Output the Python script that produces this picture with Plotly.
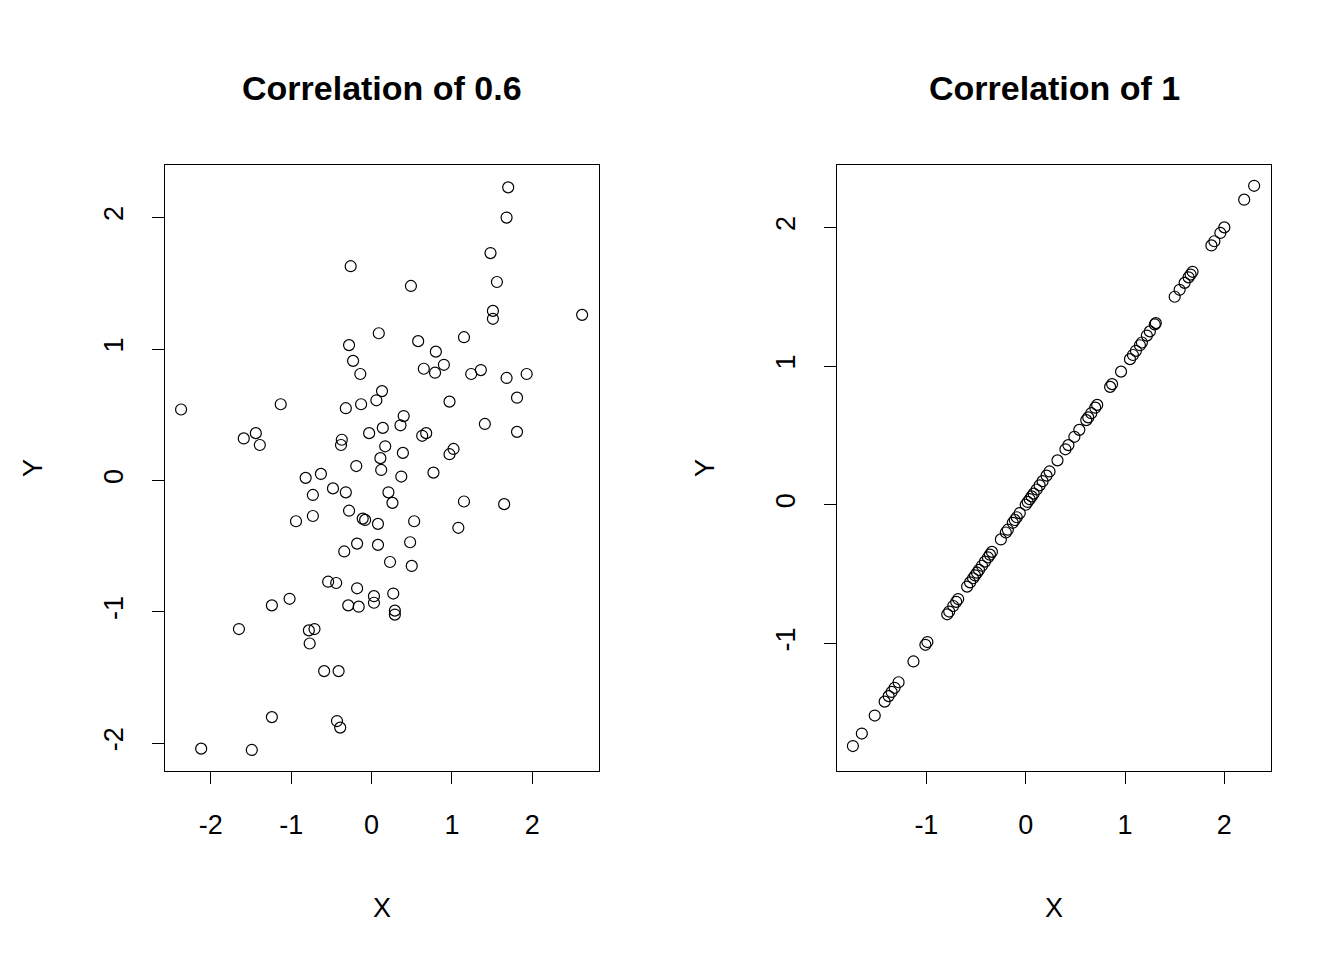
import plotly.graph_objects as go

x06 = [-2.37,-2.12,-1.49,-1.24,-1.65,-0.78,-0.71,-0.77,-0.59,-0.41,-0.43,-0.39,-1.59,-1.44,-1.39,-1.13,
       -1.24,-1.02,-0.94,-0.82,-0.73,-0.73,-0.63,-0.54,-0.44,-0.48,-0.37,-0.38,-0.34,-0.32,-0.28,-0.26,
       -0.28,-0.23,-0.14,-0.13,-0.32,-0.18,-0.19,-0.18,-0.16,-0.11,-0.08,-0.29,0.03,0.03,0.06,0.08,0.08,
       0.09,0.11,0.12,0.13,0.14,0.17,0.23,0.21,0.26,0.27,0.29,0.29,0.37,0.39,0.36,0.40,0.49,0.48,0.50,
       0.53,0.58,0.63,0.68,0.65,0.77,0.80,0.79,0.90,0.97,0.97,1.02,1.08,1.15,1.15,1.24,1.36,1.41,1.48,
       1.51,1.51,1.56,1.65,1.68,1.70,1.68,1.81,1.81,1.93,2.62,-0.03]
y06 = [0.54,-2.04,-2.05,-1.80,-1.13,-1.14,-1.13,-1.24,-1.45,-1.45,-1.83,-1.88,0.32,0.36,0.27,0.58,
       -0.95,-0.90,-0.31,0.02,-0.11,-0.27,0.05,-0.77,-0.78,-0.06,0.31,0.27,-0.54,-0.09,-0.23,1.63,
       1.03,0.91,0.81,0.58,0.55,-0.48,0.11,-0.82,-0.96,-0.29,-0.30,-0.95,-0.88,-0.93,0.61,-0.33,-0.49,
       1.12,0.17,0.08,0.68,0.40,0.26,-0.62,-0.09,-0.17,-0.86,-0.99,-1.02,0.03,0.21,0.42,0.49,1.48,-0.47,-0.65,
       -0.31,1.06,0.34,0.36,0.85,0.06,0.98,0.82,0.88,0.60,0.20,0.24,-0.36,1.09,-0.16,0.81,0.84,0.43,1.73,
       1.23,1.29,1.51,-0.18,0.78,2.23,2.00,0.63,0.37,0.81,1.26,0.36]
x1 = [-1.74,-1.65,-1.52,-1.42,-1.38,-1.35,-1.32,-1.28,-1.13,-1.01,-0.99,-0.79,-0.77,-0.73,-0.70,-0.68,
      -0.59,-0.56,-0.53,-0.51,-0.49,-0.47,-0.44,-0.41,-0.38,-0.36,-0.34,-0.25,-0.20,-0.18,-0.13,-0.11,
      -0.09,-0.06,0.0,0.02,0.04,0.06,0.08,0.11,0.14,0.17,0.21,0.24,0.32,0.40,0.43,0.49,0.54,0.61,0.63,
      0.66,0.70,0.72,0.85,0.87,0.96,1.05,1.08,1.11,1.15,1.17,1.22,1.25,1.30,1.31,1.50,1.55,1.60,1.64,
      1.66,1.68,1.87,1.90,1.96,2.00,2.20,2.30]
y1 = [-1.74,-1.65,-1.52,-1.42,-1.38,-1.35,-1.32,-1.28,-1.13,-1.01,-0.99,-0.79,-0.77,-0.73,-0.70,-0.68,
      -0.59,-0.56,-0.53,-0.51,-0.49,-0.47,-0.44,-0.41,-0.38,-0.36,-0.34,-0.25,-0.20,-0.18,-0.13,-0.11,
      -0.09,-0.06,0.0,0.02,0.04,0.06,0.08,0.11,0.14,0.17,0.21,0.24,0.32,0.40,0.43,0.49,0.54,0.61,0.63,
      0.66,0.70,0.72,0.85,0.87,0.96,1.05,1.08,1.11,1.15,1.17,1.22,1.25,1.30,1.31,1.50,1.55,1.60,1.64,
      1.66,1.68,1.87,1.90,1.96,2.00,2.20,2.30]
titles = ["Correlation of 0.6", "Correlation of 1"]
ticks_a = [-2, -1, 0, 1, 2]
ticks_b = [-1, 0, 1, 2]

W, H = 1344, 960
font = "Liberation Sans, Arial, sans-serif"
fig = go.Figure()
mk = dict(symbol="circle-open", size=11, color="black", line=dict(width=1.2))
fig.add_trace(go.Scatter(x=x06, y=y06, mode="markers", marker=mk, xaxis="x", yaxis="y"))
fig.add_trace(go.Scatter(x=x1, y=y1, mode="markers", marker=mk, xaxis="x2", yaxis="y2"))

ax = dict(showgrid=False, zeroline=False, showline=True, mirror=True, linecolor="black", linewidth=1,
          ticks="outside", ticklen=12, tickcolor="black", tickfont=dict(family=font, size=27, color="black"),
          ticklabelstandoff=18, automargin=False)
def tk(v):
    return dict(tickvals=v, ticktext=[str(t) for t in v])
yd = [1 - 763 / H, 1 - 157 / H]
fig.update_layout(
    width=W, height=H, margin=dict(l=0, r=0, t=0, b=0, autoexpand=False), showlegend=False,
    plot_bgcolor="white", paper_bgcolor="white",
    xaxis=dict(ax, domain=[157 / W, 591 / W], range=[-2.57, 2.83], **tk(ticks_a)),
    yaxis=dict(ax, domain=yd, range=[-2.21, 2.40], tickangle=-90, **tk(ticks_a)),
    xaxis2=dict(ax, domain=[829 / W, 1263 / W], range=[-1.90, 2.47], anchor="y2", **tk(ticks_b)),
    yaxis2=dict(ax, domain=yd, range=[-1.92, 2.45], tickangle=-90, anchor="x2", **tk(ticks_b)),
)
ann = []
common = dict(xref="paper", yref="paper", showarrow=False, xanchor="center", yanchor="middle")
for cx, t in [(374, titles[0]), (1046, titles[1])]:
    ann.append(dict(common, text="<b>" + t + "</b>", x=cx / W, y=1 - 80 / H,
                    font=dict(family=font, size=34, color="black")))
    ann.append(dict(common, text="X", x=cx / W, y=1 - 900 / H,
                    font=dict(family=font, size=27, color="black")))
for cx in [25, 697]:
    ann.append(dict(common, text="Y", x=cx / W, y=1 - 460 / H, textangle=-90,
                    font=dict(family=font, size=27, color="black")))
fig.update_layout(annotations=ann)
fig.write_html("out.html")
